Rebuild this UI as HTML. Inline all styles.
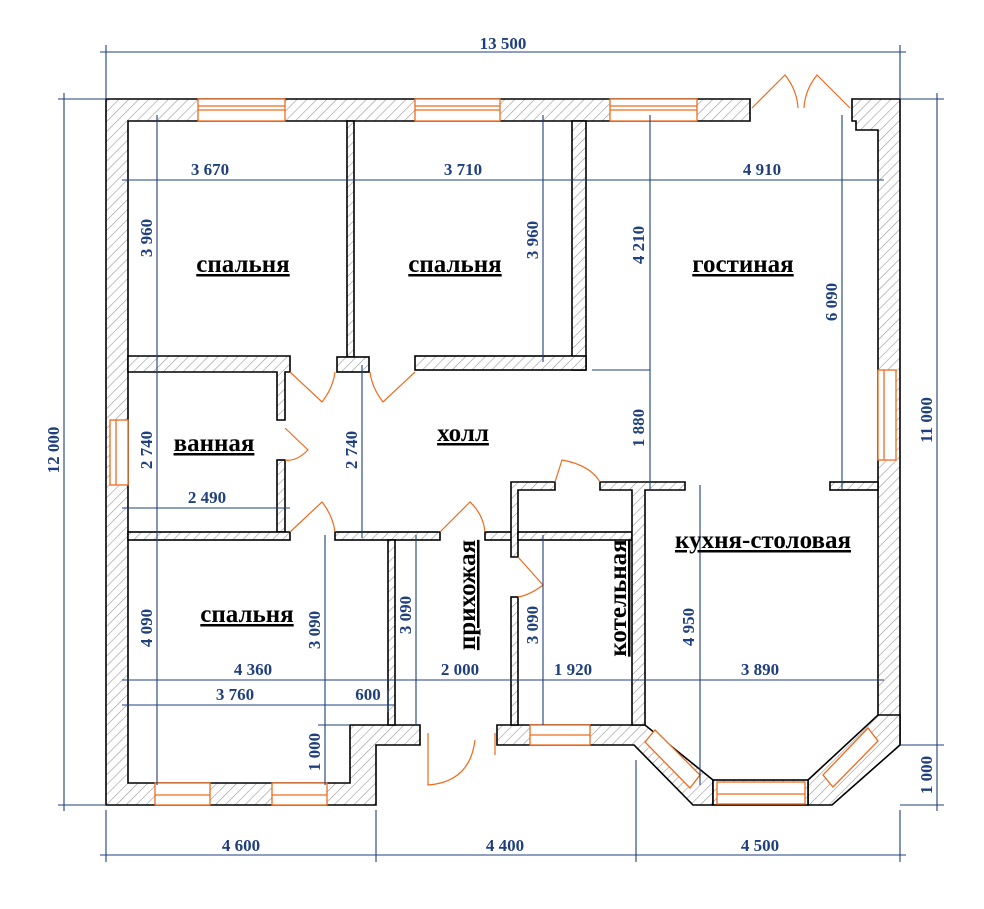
<!DOCTYPE html>
<html><head><meta charset="utf-8"><style>
html,body{margin:0;padding:0;background:#fff;}
svg{display:block;}
.d{font-family:"Liberation Serif",serif;font-weight:bold;font-size:17px;fill:#1f3f7f;}
.r{font-family:"Liberation Serif",serif;font-weight:bold;font-size:25px;fill:#000;text-decoration:underline;}
</style></head><body>
<svg width="984" height="909" viewBox="0 0 984 909" xmlns="http://www.w3.org/2000/svg">
<defs>
<pattern id="h" patternUnits="userSpaceOnUse" width="7" height="7" patternTransform="rotate(45)">
<rect width="7" height="7" fill="#fff"/><line x1="0" y1="0" x2="0" y2="7" stroke="#999" stroke-width="1.2"/>
</pattern>
</defs>
<g stroke="#000" stroke-width="1.6" fill="url(#h)">
<polygon points="106,99 750,99 750,121 128,121 128,783 350,783 350,725 420,725 420,745 376,745 376,805 106,805"/>
<polygon points="852,99 900,99 900,745 878,745 878,130 856,130 856,121 852,121"/>
<polygon points="497,725 645,725 713,780 713,805 693,805 634,745 497,745"/>
<polygon points="878,715 900,715 900,745 832,805 808,805 808,780 878,715"/>
<rect x="713" y="780" width="95" height="25"/>
<rect x="347" y="121" width="7" height="236"/>
<rect x="572" y="121" width="14" height="249"/>
<polygon points="128,356 290,356 290,372 285,372 285,420 277,420 277,372 128,372"/>
<rect x="337" y="357" width="32" height="15"/>
<rect x="415" y="356" width="171" height="14"/>
<rect x="277" y="460" width="8" height="72"/>
<rect x="128" y="532" width="162" height="8"/>
<rect x="335" y="532" width="105" height="8"/>
<rect x="485" y="532" width="30" height="8"/>
<rect x="388" y="540" width="7" height="185"/>
<polygon points="511,482 555,482 555,490 518,490 518,557 511,557"/>
<rect x="511" y="597" width="7" height="128"/>
<rect x="518" y="532" width="114" height="8"/>
<polygon points="600,482 685,482 685,490 645,490 645,725 632,725 632,490 600,490"/>
<rect x="830" y="482" width="48" height="8"/>
</g>
<g fill="#fff" stroke="#f06a1c" stroke-width="1.3">
<rect x="198" y="99" width="87" height="22"/><line x1="198" y1="106" x2="285" y2="106"/><line x1="198" y1="110" x2="285" y2="110"/>
<rect x="415" y="99" width="85" height="22"/><line x1="415" y1="106" x2="500" y2="106"/><line x1="415" y1="110" x2="500" y2="110"/>
<rect x="610" y="99" width="87" height="22"/><line x1="610" y1="106" x2="697" y2="106"/><line x1="610" y1="110" x2="697" y2="110"/>
<rect x="110" y="420" width="18" height="65"/><line x1="116" y1="420" x2="116" y2="485"/>
<rect x="878" y="370" width="18" height="90"/><line x1="884" y1="370" x2="884" y2="460"/>
<rect x="530" y="725" width="60" height="20"/><line x1="530" y1="735" x2="590" y2="735"/>
<rect x="155" y="783" width="55" height="22"/><line x1="155" y1="795" x2="210" y2="795"/>
<rect x="272" y="783" width="55" height="22"/><line x1="272" y1="795" x2="327" y2="795"/>
<rect x="717" y="782" width="88" height="22"/><line x1="717" y1="794" x2="805" y2="794"/>
<polygon points="655,730 700,775 690,788 645,742"/>
<polygon points="868,728 823,775 833,787 878,741"/>
</g>
<g fill="none" stroke="#f06a1c" stroke-width="1.2">
<path d="M752,108 L785,75 Q797,90 798,108"/><path d="M850,108 L817,75 Q805,90 804,108"/>
<path d="M290,372 L322,402 Q333,388 335,372"/>
<path d="M415,372 L383,402 Q372,388 370,372"/>
<path d="M285,428 L308,450 Q296,462 285,460"/>
<path d="M290,532 L322,502 Q333,516 335,532"/>
<path d="M440,532 L470,502 Q483,514 485,532"/>
<path d="M555,482 L562,460 Q590,465 600,482"/>
<path d="M518,557 L543,585 Q530,595 518,597"/>
<path d="M428,733 L428,785 Q470,782 475,740"/><path d="M495,733 L495,755"/>
</g>
<g stroke="#1f3f7f" stroke-width="1.1" fill="none">
<line x1="100" y1="52" x2="906" y2="52"/><line x1="106" y1="45" x2="106" y2="99"/><line x1="900" y1="45" x2="900" y2="99"/>
<line x1="64" y1="93" x2="64" y2="811"/><line x1="58" y1="99" x2="106" y2="99"/><line x1="58" y1="805" x2="106" y2="805"/>
<line x1="937" y1="93" x2="937" y2="811"/><line x1="900" y1="99" x2="944" y2="99"/><line x1="900" y1="745" x2="944" y2="745"/><line x1="900" y1="805" x2="944" y2="805"/>
<line x1="100" y1="855" x2="906" y2="855"/><line x1="106" y1="810" x2="106" y2="862"/><line x1="376" y1="810" x2="376" y2="862"/><line x1="636" y1="760" x2="636" y2="862"/><line x1="900" y1="810" x2="900" y2="862"/>
<line x1="122" y1="180" x2="884" y2="180"/>
<line x1="157" y1="115" x2="157" y2="785"/>
<line x1="543" y1="115" x2="543" y2="362"/>
<line x1="650" y1="115" x2="650" y2="490"/><line x1="592" y1="370" x2="650" y2="370"/>
<line x1="842" y1="115" x2="842" y2="490"/>
<line x1="362" y1="365" x2="362" y2="538"/>
<line x1="122" y1="508" x2="290" y2="508"/>
<line x1="325" y1="535" x2="325" y2="785"/><line x1="318" y1="725" x2="350" y2="725"/>
<line x1="416" y1="535" x2="416" y2="725"/>
<line x1="543" y1="535" x2="543" y2="725"/>
<line x1="700" y1="485" x2="700" y2="785"/>
<line x1="122" y1="680" x2="884" y2="680"/>
<line x1="122" y1="705" x2="394" y2="705"/><line x1="388" y1="690" x2="388" y2="712"/>
</g>
<g class="d">
<text x="503" y="49" text-anchor="middle">13 500</text>
<text x="241" y="851" text-anchor="middle">4 600</text>
<text x="505" y="851" text-anchor="middle">4 400</text>
<text x="760" y="851" text-anchor="middle">4 500</text>
<text x="210" y="175" text-anchor="middle">3 670</text>
<text x="463" y="175" text-anchor="middle">3 710</text>
<text x="762" y="175" text-anchor="middle">4 910</text>
<text x="207" y="503" text-anchor="middle">2 490</text>
<text x="253" y="675" text-anchor="middle">4 360</text>
<text x="460" y="675" text-anchor="middle">2 000</text>
<text x="573" y="675" text-anchor="middle">1 920</text>
<text x="760" y="675" text-anchor="middle">3 890</text>
<text x="235" y="700" text-anchor="middle">3 760</text>
<text x="368" y="700" text-anchor="middle">600</text>
<text transform="translate(59,450) rotate(-90)" text-anchor="middle">12 000</text>
<text transform="translate(932,420) rotate(-90)" text-anchor="middle">11 000</text>
<text transform="translate(932,775) rotate(-90)" text-anchor="middle">1 000</text>
<text transform="translate(152,238) rotate(-90)" text-anchor="middle">3 960</text>
<text transform="translate(152,450) rotate(-90)" text-anchor="middle">2 740</text>
<text transform="translate(152,628) rotate(-90)" text-anchor="middle">4 090</text>
<text transform="translate(538,240) rotate(-90)" text-anchor="middle">3 960</text>
<text transform="translate(644,245) rotate(-90)" text-anchor="middle">4 210</text>
<text transform="translate(644,428) rotate(-90)" text-anchor="middle">1 880</text>
<text transform="translate(837,302) rotate(-90)" text-anchor="middle">6 090</text>
<text transform="translate(357,450) rotate(-90)" text-anchor="middle">2 740</text>
<text transform="translate(320,630) rotate(-90)" text-anchor="middle">3 090</text>
<text transform="translate(320,752) rotate(-90)" text-anchor="middle">1 000</text>
<text transform="translate(411,615) rotate(-90)" text-anchor="middle">3 090</text>
<text transform="translate(538,625) rotate(-90)" text-anchor="middle">3 090</text>
<text transform="translate(694,627) rotate(-90)" text-anchor="middle">4 950</text>
</g>
<g class="r">
<text x="243" y="272" text-anchor="middle">спальня</text>
<text x="455" y="272" text-anchor="middle">спальня</text>
<text x="743" y="272" text-anchor="middle">гостиная</text>
<text x="214" y="451" text-anchor="middle">ванная</text>
<text x="463" y="441" text-anchor="middle">холл</text>
<text x="763" y="548" text-anchor="middle">кухня-столовая</text>
<text x="247" y="622" text-anchor="middle">спальня</text>
<text transform="translate(475,595) rotate(-90)" text-anchor="middle">прихожая</text>
<text transform="translate(626,598) rotate(-90)" text-anchor="middle">котельная</text>
</g>
</svg>
</body></html>
